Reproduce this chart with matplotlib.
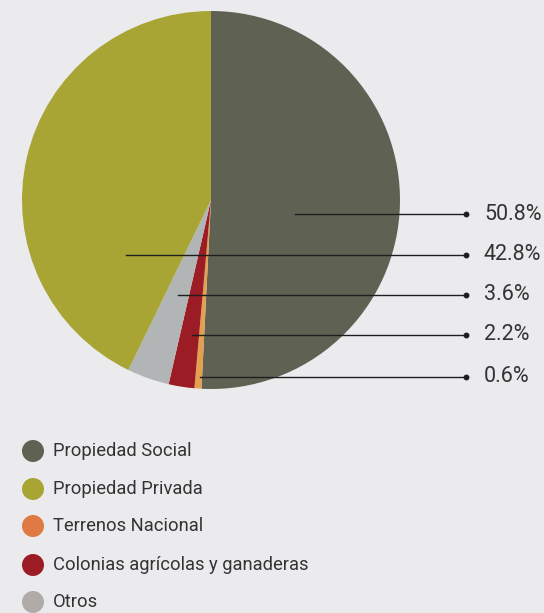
import matplotlib
matplotlib.use("Agg")
import matplotlib.pyplot as plt
from matplotlib.patches import Circle

# tenencia de la tierra por tipo de propiedad
categorias = ["Propiedad Social", "Propiedad Privada", "Terrenos Nacional",
              "Colonias agrícolas y ganaderas", "Otros"]
porcentajes = [50.8, 42.8, 0.6, 2.2, 3.6]
colores_pie = ["#5f6253", "#a8a535", "#e3a04f", "#9b1c24", "#b2b5b5"]
colores_leyenda = ["#5f6253", "#a8a535", "#e07a45", "#9b1c24", "#b0aba8"]

# orden de los sectores en el pastel (sentido horario desde arriba)
orden_pie = [0, 2, 3, 4, 1]
# orden de las etiquetas de la derecha
orden_etiquetas = [0, 1, 4, 3, 2]

W, H = 544, 613
fondo = "#ebebee"
texto = "#333333"

plt.rcParams['font.family'] = ['Roboto', 'DejaVu Sans']

fig = plt.figure(figsize=(W / 100, H / 100), dpi=100, facecolor=fondo)
ax = fig.add_axes([0, 0, 1, 1])
ax.set_xlim(0, W)
ax.set_ylim(0, H)
ax.set_aspect("equal")
ax.axis("off")

def fy(y):
    return H - y

cx, cy, r = 211, 200, 189
ax.pie([porcentajes[i] for i in orden_pie],
       colors=[colores_pie[i] for i in orden_pie],
       startangle=90, counterclock=False,
       center=(cx, fy(cy)), radius=r, frame=True,
       wedgeprops=dict(linewidth=0))
ax.set_xlim(0, W)
ax.set_ylim(0, H)
ax.axis("off")

# líneas guía con el porcentaje
inicio_x = [295, 126, 178, 192, 200]
filas_y = [214, 255, 295, 335, 377]
for k, i in enumerate(orden_etiquetas):
    y = fy(filas_y[k])
    ax.plot([inicio_x[k], 466], [y, y], color="#1e1e1e", lw=1.0, zorder=5)
    ax.plot(466, y, "o", color="#1e1e1e", ms=3.2, zorder=6)
    ax.text(484, y, f"{porcentajes[i]:.1f}%", ha="left", va="center",
            fontsize=15.5, color=texto)

# leyenda
leyenda_y = [451, 489, 526, 565, 602]
for i, nombre in enumerate(categorias):
    y = fy(leyenda_y[i])
    ax.add_patch(Circle((33, y), 11, color=colores_leyenda[i], lw=0))
    ax.text(53, y, nombre, ha="left", va="center", fontsize=13.2, color=texto)

fig.savefig("out.png", dpi=100, facecolor=fondo)
